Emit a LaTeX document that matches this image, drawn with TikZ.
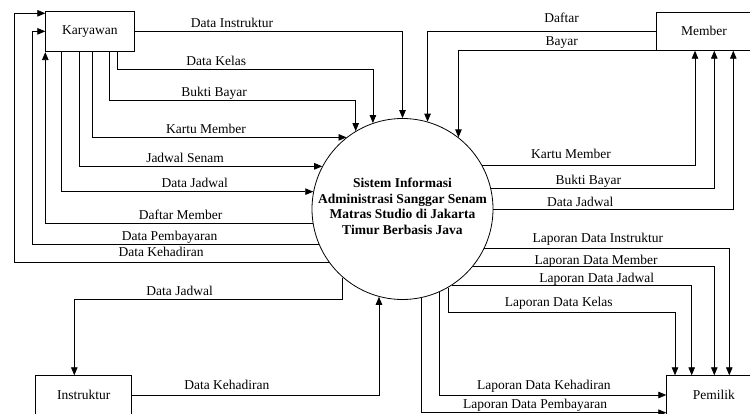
\documentclass[tikz,border=0pt]{standalone}
\usepackage{fontspec}
\setmainfont{Liberation Serif}
\usepackage{tikz}
\usetikzlibrary{arrows.meta}
\tikzstyle{entity} = [rectangle, draw=black, line width=0.8pt, text centered]
\tikzstyle{process} = [circle, draw=black, line width=0.8pt, minimum size=181pt, inner sep=0pt]
\tikzstyle{arrow} = [line width=0.8pt, -{Triangle[length=8pt,width=6.5pt]}]
\tikzstyle{flow} = [anchor=base, inner sep=0pt, yshift=4pt]

\begin{document}
\begin{tikzpicture}[x=1pt, y=-1pt, font=\fontsize{13.5}{15.5}\selectfont]
        \path[use as bounding box, clip] (0,0) rectangle (750,414);

        \node (kary) [entity, minimum width=88.3pt, minimum height=40.7pt] at (89.85,31.35) {Karyawan};
        \node (member) [entity, minimum width=94.6pt, minimum height=38pt] at (704,31.3) {Member};
        \node (instr) [entity, minimum width=96pt, minimum height=38.6pt] at (83.7,395) {Instruktur};
        \node (pemilik) [entity, minimum width=94.3pt, minimum height=38.6pt] at (713.85,395) {Pemilik};
        \node (sys) [process] at (402.5,209) {};
        \node (systext) [align=center, yshift=2.5pt, font=\fontsize{13.5}{15.5}\selectfont\bfseries] at (sys.center) {Sistem Informasi\\Administrasi Sanggar Senam\\Matras Studio di Jakarta\\Timur Berbasis Java};

        \draw [arrow] (kary.east) -| node[flow, pos=0.182] (f1) {Data Instruktur} (sys.north);
        \draw [arrow] (kary.south -| 117,0) -- (117,69.3) -| node[flow, pos=0.194] (f2) {Data Kelas} (sys.109.9);
        \draw [arrow] (kary.south -| 109,0) -- (109,100.7) -| node[flow, pos=0.213] (f3) {Bukti Bayar} (sys.121.7);
        \draw [arrow] (kary.south -| 92,0) |- node[flow, pos=0.724] (f4) {Kartu Member} (sys.128.8);
        \draw [arrow] (kary.south -| 79,0) |- node[flow, pos=0.718] (f5) {Jadwal Senam} (sys.152.4);
        \draw [arrow] (kary.south -| 61,0) |- node[flow, pos=0.765] (f6) {Data Jadwal} (sys.169.2);
        \draw [arrow] (sys.189.1) -| node[flow, pos=0.247] (f7) {Daftar Member} (kary.south west);
        \draw [arrow] (sys.203.4) -- node[flow, pos=0.52] (f8) {Data Pembayaran} (sys.203.4 -| 32,0) |- (kary.west);
        \draw [arrow] (sys.216.9) -- node[flow, pos=0.533, yshift=1.5pt] (f9) {Data Kehadiran} (sys.216.9 -| 14,0) |- (kary.west |- 0,13.3);

        \draw [arrow] (member.west) -| node[flow, pos=0.207, yshift=5pt] (f10) {Daftar} (sys.74.1);
        \draw [arrow] (member.south west) -| node[flow, pos=0.239, yshift=1.5pt] (f11) {Bayar} (sys.52.7);
        \draw [arrow] (sys.29.1) -| node[flow, pos=0.209, yshift=2pt] (f12) {Kartu Member} (member.south -| 695,0);
        \draw [arrow] (sys.13.9) -| node[flow, pos=0.218] (f13) {Bukti Bayar} (member.south -| 714.3,0);
        \draw [arrow] (sys.east) -| node[flow, pos=0.181, yshift=-2pt] (f14) {Data Jadwal} (member.south -| 733.3,0);

        \draw [arrow] (sys.-26.2) -| node[flow, pos=0.232, yshift=2pt] (f15) {Laporan Data Instruktur} (pemilik.north -| 729.3,0);
        \draw [arrow] (sys.-39.6) -| node[flow, pos=0.255, yshift=-2pt] (f16) {Laporan Data Member} (pemilik.north -| 714.3,0);
        \draw [arrow] (sys.-57.9) -| node[flow, pos=0.302, yshift=-1.5pt] (f17) {Laporan Data Jadwal} (pemilik.north -| 691.7,0);
        \draw [arrow] (sys.-60.04) -- (sys.-60.04 |- 0,312.3) -| node[flow, pos=0.244, yshift=1.5pt] (f18) {Laporan Data Kelas} (pemilik.north -| 675,0);
        \draw [arrow] (sys.-66.2) |- node[flow, pos=0.73, yshift=2pt] (f19) {Laporan Data Kehadiran} (pemilik.west);
        \draw [arrow] (sys.-78.9) |- node[flow, pos=0.732] (f20) {Laporan Data Pembayaran} (pemilik.west |- 0,412.7);

        \draw [arrow] (sys.229.2) -- (sys.229.2 |- 0,299.3) -| node[flow, pos=0.304] (f21) {Data Jadwal} (instr.north -| 74.3,0);
        \draw [arrow] (instr.east) -| node[flow, pos=0.192, yshift=1.5pt] (f22) {Data Kehadiran} (sys.255.6);
    \end{tikzpicture}
\end{document}
